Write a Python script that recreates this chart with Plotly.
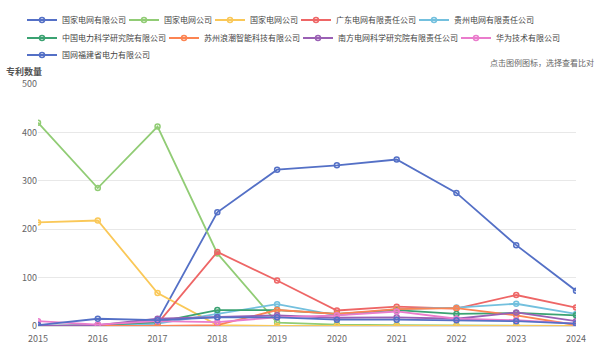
import plotly.graph_objects as go

years = [2015, 2016, 2017, 2018, 2019, 2020, 2021, 2022, 2023, 2024]

names = [
    "国家电网有限公司", "国家电网公司", "国家电网公司 ", "广东电网有限责任公司", "贵州电网有限责任公司",
    "中国电力科学研究院有限公司", "苏州浪潮智能科技有限公司", "南方电网科学研究院有限责任公司",
    "华为技术有限公司", "国网福建省电力有限公司",
]
colors = ["#5470c6", "#91cc75", "#fac858", "#ee6666", "#73c0de",
          "#3ba272", "#fc8452", "#9a60b4", "#ea7ccc", "#5470c6"]

s_sgcc_ltd = [0, 0, 10, 235, 323, 332, 344, 275, 167, 73]
s_sgcc_a = [420, 285, 412, 150, 7, 3, 2, 1, 1, 0]
s_sgcc_b = [214, 218, 68, 2, 0, 0, 0, 0, 0, 0]
s_guangdong = [0, 0, 5, 153, 94, 32, 40, 36, 64, 38]
s_guizhou = [0, 0, 5, 25, 45, 22, 35, 38, 46, 25]
s_cepri = [0, 2, 8, 33, 33, 25, 33, 25, 27, 22]
s_inspur = [0, 0, 0, 2, 33, 25, 35, 37, 22, 2]
s_csg_ri = [0, 2, 15, 18, 22, 17, 18, 15, 28, 10]
s_huawei = [10, 3, 10, 8, 18, 22, 30, 15, 12, 5]
s_fujian = [2, 15, 12, 18, 18, 13, 13, 12, 10, 5]

series = [s_sgcc_ltd, s_sgcc_a, s_sgcc_b, s_guangdong, s_guizhou,
          s_cepri, s_inspur, s_csg_ri, s_huawei, s_fujian]

W, H = 600, 352
ML, MR, MT, MB = 38, 24, 84, 26
PW, PH = W - ML - MR, H - MT - MB
font = "Noto Sans CJK SC"
LEG_FONT = 8

rows = [[0, 1, 2, 3, 4], [5, 6, 7, 8], [9]]
row_y = [20, 38, 55]

fig = go.Figure()
legend_ids = []
for i, (name, vals, c) in enumerate(zip(names, series, colors)):
    lid = "legend" if i == 0 else f"legend{i + 1}"
    legend_ids.append(lid)
    fig.add_trace(go.Scatter(
        x=years, y=vals, name=name, mode="lines+markers", legend=lid,
        line=dict(color=c, width=1.8),
        marker=dict(symbol="circle-open", size=5, color=c, line=dict(width=1.5, color=c)),
    ))

# each entry is its own one-item legend; icon starts ~8px right of the legend's x
legend_layout = {}
for r, row in enumerate(rows):
    icon_x = 30
    for i in row:
        lid = legend_ids[i]
        legend_layout[lid] = dict(
            orientation="h", xref="container", yref="container",
            x=(icon_x - 8) / W, xanchor="left", y=1 - row_y[r] / H, yanchor="middle",
            bgcolor="rgba(0,0,0,0)", borderwidth=0,
            font=dict(size=LEG_FONT, color="#444", family=font),
        )
        icon_x += 32 + len(names[i].strip()) * LEG_FONT + 6

fig.update_layout(
    width=W, height=H,
    margin=dict(l=ML, r=MR, t=MT, b=MB, autoexpand=False),
    paper_bgcolor="white", plot_bgcolor="white",
    font=dict(family=font, size=9, color="#666"),
    showlegend=True,
    xaxis=dict(range=[2015, 2024], tickmode="array", tickvals=years,
               ticktext=[str(y) for y in years], showgrid=False,
               showline=True, linecolor="#ddd", ticks="", ticklabelstandoff=4,
               zeroline=False, tickfont=dict(size=9, color="#666")),
    yaxis=dict(range=[0, 500], tickvals=[0, 100, 200, 300, 400, 500],
               gridcolor="#e8e8e8", zeroline=False, showline=False,
               tickfont=dict(size=9, color="#666")),
    **legend_layout,
)

def px_x(p):
    return (p - ML) / PW

def px_y(p):
    return (H - MB - p) / PH

fig.add_annotation(text="<b>专利数量</b>", xref="paper", yref="paper", x=px_x(4), y=px_y(71),
                   xanchor="left", yanchor="middle", showarrow=False,
                   font=dict(size=9, color="#555", family=font))
fig.add_annotation(text="点击图例图标，选择查看比对", xref="paper", yref="paper",
                   x=px_x(596), y=px_y(63),
                   xanchor="right", yanchor="middle", showarrow=False,
                   font=dict(size=8, color="#666", family=font))

fig.write_html("out.html")
